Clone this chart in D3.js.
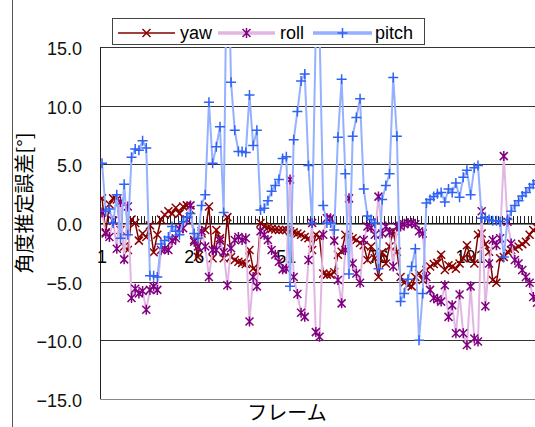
<!DOCTYPE html>
<html>
<head>
<meta charset="utf-8">
<script src="https://cdn.jsdelivr.net/npm/d3@7"></script>
<style>
  body { margin: 0; background: #fff; }
  text { font-family: "Liberation Sans", Arial, sans-serif; }
  .jp { font-family: "Noto Sans CJK JP", sans-serif; }
</style>
</head>
<body>
<div id="chart"></div>
<script>
var width = 535
var height = 427

// frame numbers 1..120
var categories = d3.range(1, 121)
var xTickLabels = [1, 26, 51, 76, 101]
var yTicks = [-15, -10, -5, 0, 5, 10, 15]

var yaw = [
    2.1, -0.8, 1.6, 2.1, 2.0, -0.6, -2.0, -2.3, 0.3, 0.0,
    -1.5, -0.9, -1.2, -0.2, -2.5, -1.0, 0.3, 0.7, 1.0, 0.8,
    1.3, 0.8, 1.4, 1.5, 1.1, -1.45, -2.9, -0.9, -0.6, 1.4,
    -3.0, -0.6, -1.3, -3.0, 0.5, -2.9, -3.15, -3.3, -3.4, -3.5,
    -2.3, -3.9, -4.1, 0.0, -0.3, -0.4, -0.5, -0.55, -0.6, -0.6,
    -0.6, -0.7, -0.8, -0.9, -1.0, -1.2, -1.3, -2.3, -1.0, -1.2,
    -4.3, -4.4, -4.4, -4.2, -2.7, -2.45, -1.0, -1.2, -1.3, -1.45,
    -1.7, -1.9, -3.15, -2.0, -3.0, -4.6, -2.5, -3.45, -2.0, -0.7,
    -2.45, -4.6, -5.1, -5.3, -5.4, -4.6, -4.3, -4.85, -4.0, -3.7,
    -3.5, -3.4, -2.7, -4.0, -3.6, -3.7, -3.9, -3.45, -3.0, -1.9,
    -3.0, -3.45, -1.0, -0.9, -1.8, -2.45, -4.85, -5.1, -3.0, -2.9,
    -2.45, -2.3, -2.2, -2.0, -1.8, -1.6, -1.0, -0.6, -0.4, -0.2
]

var roll = [
    0.9, -0.9, -1.2, 0.2, -2.2, 1.8, -3.1, 1.4, -6.4, -5.6,
    -6.0, -5.8, -7.4, -5.7, -5.4, -5.7, -2.3, -2.2, -2.3, -1.5,
    -1.3, -0.5, -0.45, 0.3, 1.5, -1.6, -2.0, -0.7, -2.0, -4.6,
    -2.3, -2.3, -1.5, -2.5, -5.3, -2.15, -1.45, -1.2, -1.45, -1.3,
    -8.4, -4.6, -5.4, -0.7, -1.0, -1.45, -2.3, -2.7, -3.3, -3.95,
    -3.9, 3.7, -4.6, -6.05, -7.65, -8.0, -3.15, 0.0, -9.3, -9.7,
    -1.0, 0.4, 0.4, -1.5, -4.85, -6.85, -2.3, 2.1, -3.45, -4.3,
    -5.1, -1.45, -0.3, -0.4, -1.0, 2.25, -0.9, -0.3, -0.8, -3.7,
    -0.3, -0.3, -0.1, 0.0, 0.0, -0.1, -0.7, -0.9, -4.6, -5.7,
    -6.4, -6.5, -6.7, -5.3, -8.0, -7.0, -9.4, -6.1, -9.4, -10.4,
    -5.4, -9.85, -10.1, 1.0, -7.1, -3.45, -1.45, -1.9, -1.3, 5.7,
    0.1, -1.75, -3.15, -3.45, -4.0, -4.6, -5.1, -6.3, -6.8, -7.3
]

var pitch = [
    5.1, 1.0, 1.2, 0.0, 2.4, -1.3, 3.3, -1.0, 5.6, 6.3,
    6.2, 7.0, 6.4, -4.5, -4.5, -4.6, -1.8, -1.5, -1.2, -0.3,
    -0.7, -1.0, 0.1, 0.5, 0.8, -0.9, -1.3, 1.5, 2.4, 10.3,
    5.1, 6.5, 8.2, 0.9, 27, 12.0, 7.9, 6.1, 6.1, 6.0,
    10.9, 6.6, 7.9, 1.1, 1.25, 1.9, 2.7, 3.2, 3.7, 5.5,
    5.65, -5.4, 7.1, 9.5, 12.1, 12.7, 4.9, 0.0, 16.5, 16.5,
    1.5, 0.0, 0.0, -0.6, 7.3, 12.25, 4.2, -4.35, 7.4, 9.0,
    10.6, 2.9, 0.6, 0.3, 0.0, -3.9, 2.0, 3.2, 4.2, 12.4,
    7.4, -6.7, -6.0, -4.8, -3.7, -2.2, -10.0, -6.0, 1.7, 2.0,
    2.25, 2.5, 2.6, 1.8, 2.9, 2.6, 3.4, 2.2, 3.9, 4.5,
    2.4, 4.7, 4.9, 0.4, 0.5, 0.3, 0.2, 0.2, 0.1, -2.9,
    0.3, 1.0, 1.5, 1.9, 2.3, 2.6, 3.0, 3.3, 3.6, 3.9
]

var seriesList = [
    { name: 'yaw', values: yaw, line: '#800000', lineWidth: 1.5, marker: '#8b0000', shape: 'x' },
    { name: 'roll', values: roll, line: '#e2b6e2', lineWidth: 2, marker: '#800080', shape: 'star' },
    { name: 'pitch', values: pitch, line: '#94b0ff', lineWidth: 2, marker: '#2f62f5', shape: 'plus' }
]

var shapes = {
    x: 'M-4,-4L4,4M-4,4L4,-4',
    star: 'M-4,-4L4,4M-4,4L4,-4M0,-5L0,5',
    plus: 'M-5,0L5,0M0,-5L0,5'
}

var plotLeft = 100.2
var plotTop = 47
var plotBottom = 399
var plotRight = 542.5

var svg = d3.select('#chart')
    .append('svg')
    .attr('width', width)
    .attr('height', height)

var x = d3.scaleBand()
    .domain(categories)
    .range([plotLeft, plotRight])
    .paddingInner(0)
    .paddingOuter(0)

var y = d3.scaleLinear()
    .domain([-15, 15])
    .range([plotBottom, plotTop])

function cx(d) { return x(d) + x.bandwidth() / 2 }

// chart area border (only left edge shows)
svg.append('line')
    .attr('x1', 12.5).attr('x2', 12.5)
    .attr('y1', 0).attr('y2', height)
    .attr('stroke', '#555')
    .attr('stroke-width', 1)

svg.append('defs').append('clipPath')
    .attr('id', 'plotClip')
    .append('rect')
    .attr('x', plotLeft)
    .attr('y', plotTop)
    .attr('width', plotRight - plotLeft)
    .attr('height', plotBottom - plotTop)

// horizontal gridlines
svg.selectAll('.grid')
    .data(yTicks)
    .enter()
    .append('line')
    .attr('class', 'grid')
    .attr('x1', plotLeft)
    .attr('x2', plotRight)
    .attr('y1', function (d) { return Math.round(y(d)) + 0.5 })
    .attr('y2', function (d) { return Math.round(y(d)) + 0.5 })
    .attr('stroke', function (d) { return d === -15 ? '#888' : '#333' })
    .attr('stroke-width', 1)

// y axis line
svg.append('line')
    .attr('x1', Math.round(plotLeft) + 0.5).attr('x2', Math.round(plotLeft) + 0.5)
    .attr('y1', plotTop).attr('y2', plotBottom)
    .attr('stroke', '#222')

// y tick labels
svg.selectAll('.ylab')
    .data(yTicks)
    .enter()
    .append('text')
    .attr('class', 'ylab')
    .attr('x', 82)
    .attr('y', function (d) { return y(d) + 8 })
    .attr('text-anchor', 'end')
    .attr('font-size', 18)
    .attr('fill', '#111')
    .text(function (d) { return d.toFixed(1).replace('-', '\u2212') })

// category axis on the zero line, ticks pointing up
var xAxis = d3.axisBottom(x)
    .tickValues([])
    .tickSizeOuter(0)
var axisG = svg.append('g')
    .attr('transform', 'translate(0,' + (Math.round(y(0)) + 0.5) + ')')
    .call(xAxis)
axisG.select('.domain').attr('stroke', '#000')

svg.append('g')
    .selectAll('line')
    .data(categories)
    .enter()
    .append('line')
    .attr('x1', function (d) { return Math.round(x(d)) + 0.5 })
    .attr('x2', function (d) { return Math.round(x(d)) + 0.5 })
    .attr('y1', y(0) - 7)
    .attr('y2', y(0))
    .attr('stroke', '#222')
    .attr('stroke-width', 1)

svg.selectAll('.xlab')
    .data(xTickLabels)
    .enter()
    .append('text')
    .attr('class', 'xlab')
    .attr('x', function (d) { return cx(d) })
    .attr('y', 263)
    .attr('text-anchor', 'middle')
    .attr('font-size', 18)
    .attr('fill', '#000')
    .text(function (d) { return d })

// series
var plot = svg.append('g').attr('clip-path', 'url(#plotClip)')

seriesList.forEach(function (s) {
    var pts = categories.map(function (c, i) { return { c: c, v: s.values[i] } })
    var line = d3.line()
        .x(function (d) { return cx(d.c) })
        .y(function (d) { return y(d.v) })
    plot.append('path')
        .datum(pts)
        .attr('d', line)
        .attr('fill', 'none')
        .attr('stroke', s.line)
        .attr('stroke-width', s.lineWidth)
    plot.selectAll('.m-' + s.name)
        .data(pts.filter(function (d) { return d.v <= 15.5 && d.v >= -15.5 }))
        .enter()
        .append('path')
        .attr('class', 'm-' + s.name)
        .attr('transform', function (d) { return 'translate(' + cx(d.c) + ',' + y(d.v) + ')' })
        .attr('d', shapes[s.shape])
        .attr('fill', 'none')
        .attr('stroke', s.marker)
        .attr('stroke-width', 1.5)
})

// axis titles
svg.append('text')
    .attr('class', 'jp')
    .attr('transform', 'translate(32,203) rotate(-90)')
    .attr('text-anchor', 'middle')
    .attr('font-size', 20)
    .attr('fill', '#000')
    .text('角度推定誤差[°]')

svg.append('text')
    .attr('class', 'jp')
    .attr('x', 287)
    .attr('y', 420)
    .attr('text-anchor', 'middle')
    .attr('font-size', 20)
    .attr('fill', '#000')
    .text('フレーム')

// legend
var legend = svg.append('g')
legend.append('rect')
    .attr('x', 112.5).attr('y', 18.5)
    .attr('width', 312).attr('height', 26)
    .attr('fill', '#fff')
    .attr('stroke', '#444')

var legendItems = [
    { s: seriesList[0], x0: 118, x1: 175, tx: 180 },
    { s: seriesList[1], x0: 218, x1: 275, tx: 280 },
    { s: seriesList[2], x0: 313, x1: 372, tx: 375 }
]
legendItems.forEach(function (it) {
    legend.append('line')
        .attr('x1', it.x0).attr('x2', it.x1)
        .attr('y1', 33).attr('y2', 33)
        .attr('stroke', it.s.line)
        .attr('stroke-width', it.s.name === 'yaw' ? 1.5 : 3.5)
    legend.append('path')
        .attr('transform', 'translate(' + ((it.x0 + it.x1) / 2) + ',33)')
        .attr('d', it.s.shapes || shapes[it.s.shape])
        .attr('fill', 'none')
        .attr('stroke', it.s.marker)
        .attr('stroke-width', 1.5)
    legend.append('text')
        .attr('x', it.tx)
        .attr('y', 39)
        .attr('font-size', 18)
        .attr('fill', '#000')
        .text(it.s.name)
})
</script>
</body>
</html>
